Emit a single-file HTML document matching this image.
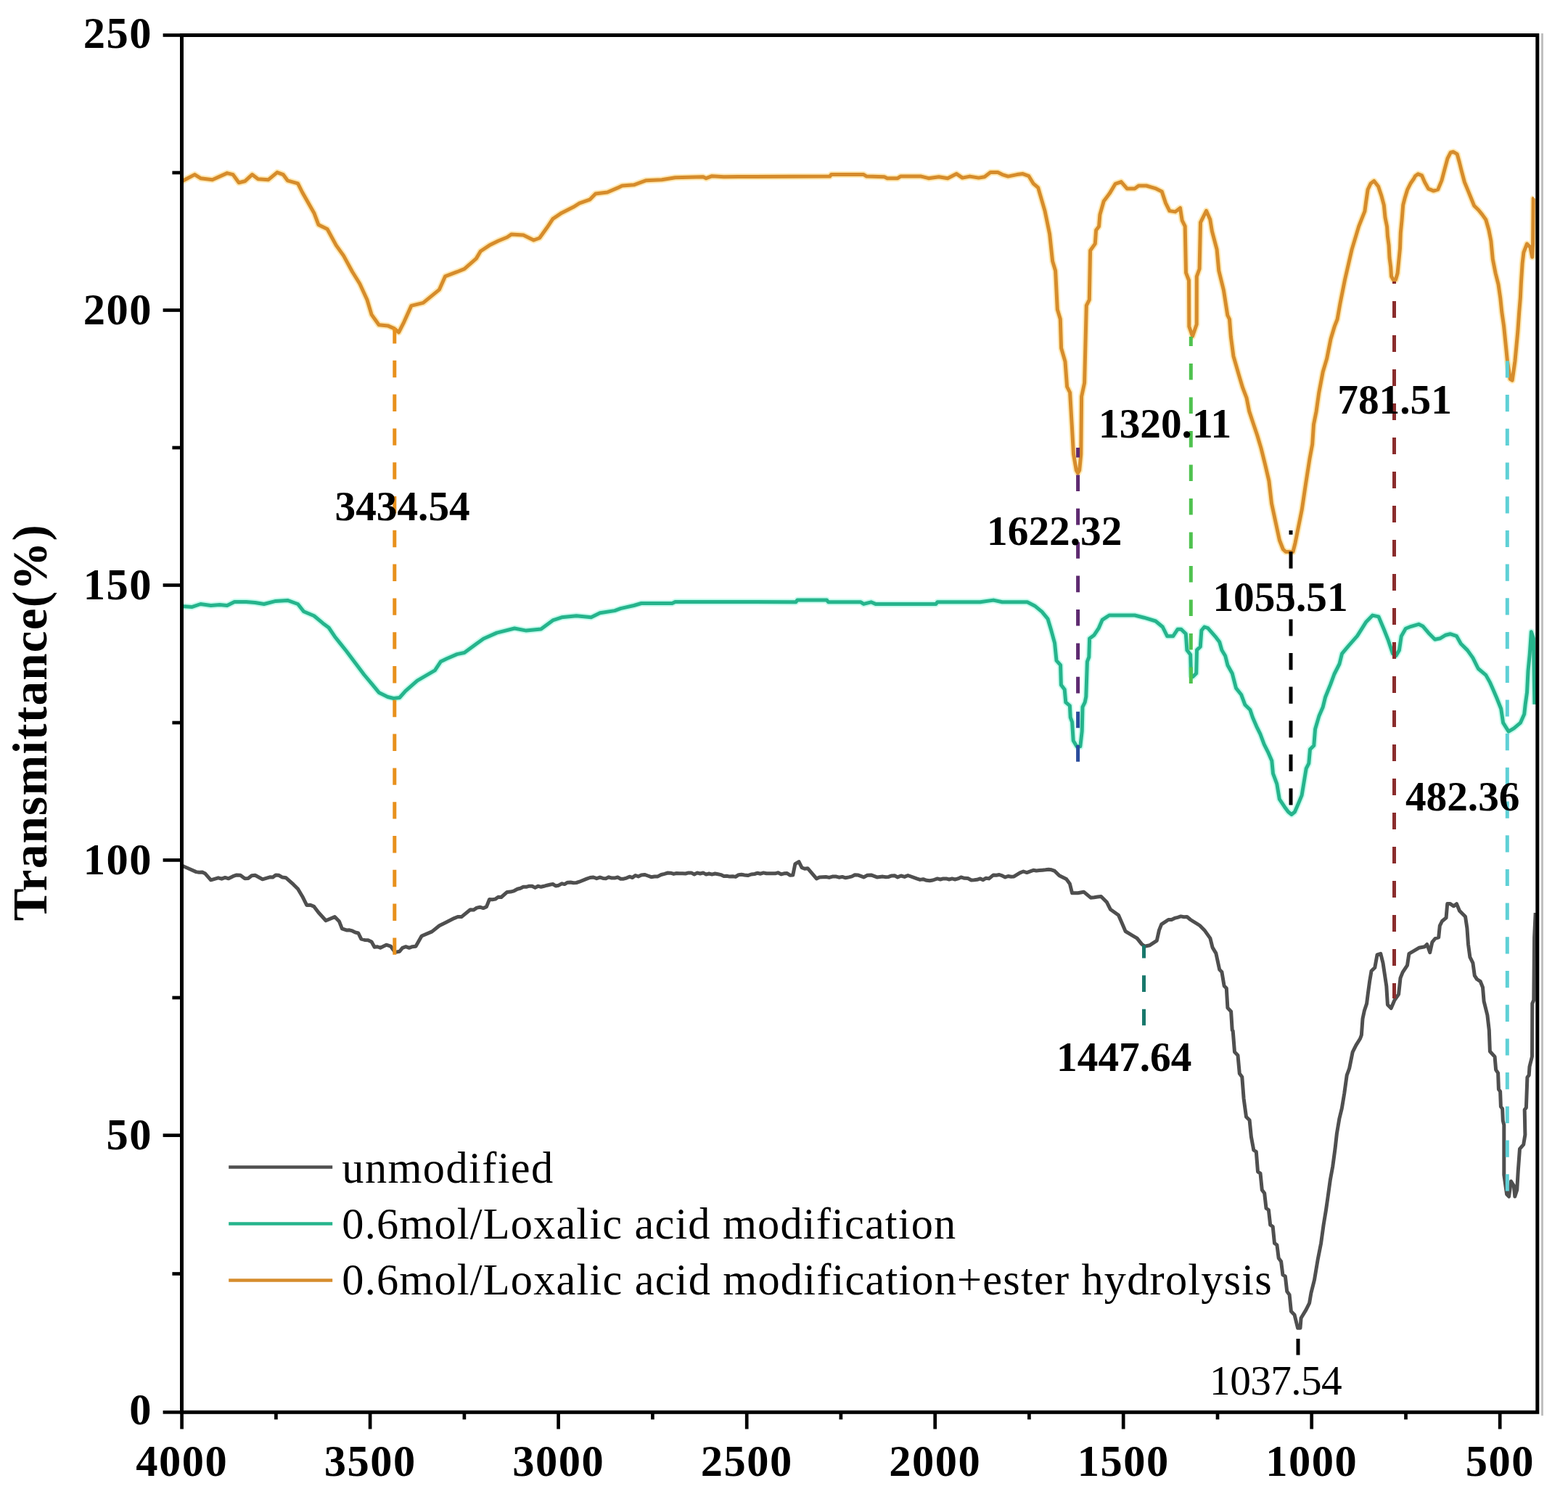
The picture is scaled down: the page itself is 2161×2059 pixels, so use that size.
<!DOCTYPE html>
<html><head><meta charset="utf-8"><title>FTIR spectra</title>
<style>
html,body{margin:0;padding:0;background:#fff;width:2161px;height:2059px;overflow:hidden;}
svg{display:block;}
text{font-family:"Liberation Serif","Times New Roman",serif;}
</style></head><body>
<svg width="2161" height="2059" viewBox="0 0 2161 2059">
<rect x="0" y="0" width="2161" height="2059" fill="#fff"/>
<line x1="2125.5" y1="46" x2="2125.5" y2="1951" stroke="#bdbdbd" stroke-width="2.8"/>
<polyline fill="none" stroke="#c9fbee" stroke-width="9" stroke-linejoin="round" points="251.0,835.6 264.2,836.6 276.4,832.5 290.6,834.5 302.8,833.5 313.0,834.5 323.1,829.5 339.4,829.5 351.6,830.5 363.8,832.5 380.0,828.4 396.3,827.4 410.5,832.5 418.6,842.7 432.8,848.8 445.0,858.9 453.1,865.0 461.3,877.2 469.4,887.4 477.5,897.5 489.7,913.8 501.9,930.0 512.1,942.2 522.2,954.4 534.4,960.5 542.5,962.5 550.7,961.5 558.8,952.4 575.0,938.1 599.4,923.9 607.5,911.7 615.7,907.7 629.9,901.6 640.0,899.5 656.3,887.4 666.4,880.2 684.7,872.1 709.1,866.0 725.3,869.1 745.6,867.0 761.9,854.9 774.1,850.8 794.4,848.8 814.7,850.8 826.9,844.7 847.2,841.6 855.3,838.6 873.6,834.5 883.8,831.5 926.4,831.5 930.5,829.5 1040.0,829.6 1096.9,829.8 1098.9,827.1 1139.5,827.1 1141.6,829.8 1186.3,829.8 1190.3,832.4 1200.5,829.8 1206.6,832.4 1289.9,832.4 1291.9,829.8 1350.8,829.8 1369.1,827.1 1381.3,829.8 1415.8,829.8 1426.0,834.9 1436.0,843.2 1444.0,852.8 1448.8,868.8 1453.6,886.4 1456.0,910.3 1461.6,916.7 1462.4,943.9 1467.2,950.3 1468.8,967.9 1474.4,972.7 1475.2,988.7 1477.6,995.1 1479.2,1020.7 1484.0,1028.7 1488.8,1028.7 1491.2,1007.9 1492.0,974.3 1495.2,967.9 1496.8,959.9 1498.4,911.9 1500.8,905.5 1501.6,880.0 1508.0,875.2 1514.3,865.6 1519.1,854.4 1528.7,848.0 1563.9,848.0 1576.7,851.2 1592.7,856.0 1602.3,864.0 1608.7,876.8 1616.7,876.8 1623.1,867.2 1627.9,867.2 1634.3,873.6 1635.9,896.0 1640.7,902.3 1641.5,931.1 1643.9,932.7 1648.7,927.9 1649.5,895.9 1654.3,891.2 1655.9,868.8 1659.9,864.0 1664.7,865.6 1675.9,878.4 1680.7,884.8 1683.9,896.0 1688.7,904.0 1691.9,916.7 1698.2,927.9 1703.5,948.4 1710.6,957.2 1715.8,971.2 1722.9,978.3 1726.4,988.8 1731.7,1001.1 1736.9,1011.7 1742.2,1025.8 1747.5,1036.3 1752.8,1048.6 1754.5,1066.2 1759.8,1080.3 1763.3,1101.4 1770.3,1111.9 1775.6,1119.0 1780.0,1122.5 1784.4,1119.0 1789.7,1106.7 1794.1,1096.1 1796.7,1080.3 1800.2,1059.2 1803.8,1052.1 1805.5,1032.8 1810.8,1027.5 1812.6,1004.7 1817.8,987.1 1823.1,974.8 1826.6,960.7 1833.7,943.1 1838.9,929.0 1846.0,915.0 1849.5,900.9 1858.3,890.3 1870.6,876.3 1882.9,856.9 1891.7,848.1 1900.0,849.9 1907.5,867.8 1913.4,882.7 1919.4,900.6 1923.9,903.6 1928.4,896.1 1931.3,876.7 1937.3,866.3 1944.8,863.3 1955.2,860.3 1961.2,863.3 1968.7,872.2 1977.6,881.2 1985.1,879.7 1992.5,875.2 1998.5,873.7 2007.5,876.7 2013.4,887.2 2022.4,896.1 2029.9,906.6 2037.3,921.5 2047.8,930.4 2053.7,940.9 2058.2,951.3 2062.7,961.8 2068.7,976.7 2071.6,996.1 2079.1,1008.1 2086.6,1003.6 2095.5,996.1 2100.7,984.2 2102.2,970.7 2104.5,954.3 2106.0,924.5 2108.2,902.1 2110.4,870.7 2113.4,879.7 2114.9,970.7"/>
<polyline fill="none" stroke="#ffeab6" stroke-width="9" stroke-linejoin="round" points="251.0,249.8 268.3,240.6 276.4,245.7 292.7,247.7 313.0,238.6 321.1,240.6 329.2,251.8 337.4,249.8 347.5,240.6 355.6,246.7 369.9,247.7 382.0,237.6 390.2,240.6 396.3,248.8 410.5,252.8 416.6,265.0 432.8,293.4 438.9,309.7 451.1,315.8 463.3,338.1 473.5,352.4 485.7,374.7 495.8,391.0 506.0,413.3 512.1,433.6 522.2,447.8 534.4,448.9 543.5,452.9 549.6,458.0 556.8,443.8 566.9,421.4 583.2,417.4 605.5,399.1 613.6,380.8 629.9,374.7 640.0,370.6 656.3,356.4 662.3,346.3 674.5,338.1 686.7,332.0 698.9,327.0 705.0,322.9 721.3,323.9 735.5,331.0 743.6,328.0 753.8,313.8 761.9,301.6 774.1,293.4 790.3,285.3 798.5,280.2 812.7,275.2 820.8,267.0 837.1,265.0 851.3,258.9 857.4,255.9 873.6,254.8 889.9,248.8 912.2,247.7 930.5,244.7 969.1,243.7 973.2,245.7 981.3,242.7 997.5,243.7 1040.0,243.4 1143.6,243.1 1145.6,240.6 1190.3,240.6 1194.4,243.1 1218.8,243.7 1222.8,245.7 1237.1,245.7 1241.1,243.1 1269.6,243.1 1279.7,245.7 1293.9,243.7 1306.1,245.7 1318.3,239.6 1326.4,245.1 1336.6,243.1 1348.8,245.1 1356.9,243.7 1365.0,237.6 1375.2,237.6 1381.3,240.6 1389.4,243.1 1401.6,240.6 1409.7,239.6 1417.9,242.7 1424.0,252.8 1430.7,258.6 1440.0,290.6 1446.6,322.6 1450.6,359.9 1454.6,373.2 1457.3,426.5 1461.3,439.8 1462.6,479.8 1468.0,498.4 1470.6,533.0 1474.6,541.0 1477.3,586.3 1479.5,626.0 1483.3,648.0 1485.5,652.0 1487.7,648.0 1489.8,626.0 1490.6,546.4 1494.6,527.7 1497.3,421.1 1501.3,413.1 1502.6,345.2 1509.3,335.9 1510.6,317.2 1514.6,311.9 1515.9,295.9 1521.2,277.3 1529.2,266.6 1537.2,253.3 1545.2,250.6 1553.2,259.9 1563.9,259.9 1569.2,256.0 1579.9,256.0 1593.2,259.9 1601.2,263.9 1606.5,279.9 1611.8,290.6 1619.8,291.9 1626.5,286.6 1629.2,303.9 1633.2,311.9 1634.5,375.8 1638.5,386.5 1638.8,450.0 1643.5,463.5 1649.2,447.0 1649.3,381.2 1653.1,370.5 1654.5,306.6 1658.5,298.6 1662.5,290.6 1667.8,302.6 1670.4,318.6 1677.1,343.9 1679.8,373.2 1686.4,399.8 1691.8,434.5 1694.5,440.0 1696.3,463.6 1699.9,490.7 1707.2,516.1 1712.6,534.2 1718.1,548.7 1721.7,566.9 1727.1,583.2 1732.6,599.5 1738.0,617.6 1743.4,639.3 1748.9,662.9 1752.5,693.7 1757.9,719.1 1763.4,744.5 1768.3,757.0 1772.0,760.5 1782.0,760.5 1785.1,748.1 1788.7,730.0 1794.2,702.8 1799.6,666.5 1805.0,632.1 1808.7,612.2 1810.5,585.0 1814.1,566.9 1817.7,541.5 1823.2,512.5 1828.6,494.4 1834.0,467.2 1839.5,449.1 1843.1,440.0 1847.1,417.4 1853.5,385.5 1863.1,343.9 1872.7,311.9 1880.9,291.2 1882.6,278.4 1885.1,261.3 1889.0,253.0 1893.6,249.4 1899.6,257.0 1903.9,269.9 1907.3,282.6 1909.0,299.7 1911.6,312.5 1912.4,325.3 1914.1,338.1 1915.0,355.1 1916.7,368.0 1917.5,380.7 1920.1,385.5 1923.5,385.5 1926.1,376.5 1927.8,359.4 1929.5,342.3 1930.3,321.0 1932.0,304.0 1933.7,282.6 1936.3,272.4 1939.7,261.3 1944.0,252.8 1948.2,246.8 1950.3,242.8 1954.4,239.8 1959.5,241.8 1963.5,251.0 1968.6,260.1 1975.7,263.1 1981.8,261.1 1986.9,248.9 1990.9,233.7 1995.0,218.4 1999.1,210.3 2003.1,209.3 2008.2,212.3 2011.3,223.5 2014.3,235.7 2018.4,251.0 2023.4,263.1 2027.5,273.3 2031.6,283.4 2037.7,289.5 2042.7,295.6 2047.8,302.7 2051.9,317.0 2054.9,332.2 2057.3,357.3 2061.1,376.5 2065.0,391.8 2067.8,411.0 2069.8,430.2 2072.6,449.4 2075.5,478.1 2077.4,497.3 2081.3,522.3 2084.2,524.2 2088.0,497.3 2091.8,457.1 2093.7,430.2 2095.4,410.0 2096.3,391.4 2098.1,363.3 2099.9,347.9 2104.4,336.1 2109.0,340.7 2111.7,354.3 2112.6,336.1 2113.2,273.6 2114.4,272.7"/>
<polyline fill="none" stroke="#4f4f4f" stroke-width="5" stroke-linejoin="round" points="252.0,1193.5 270.3,1201.6 274.4,1202.3 278.4,1201.9 282.5,1203.7 290.6,1212.8 295.7,1211.3 300.8,1209.8 305.5,1211.2 310.3,1209.4 315.0,1210.8 321.1,1207.7 326.2,1205.9 331.3,1206.3 337.4,1210.8 342.1,1210.4 346.9,1206.7 351.6,1206.3 361.7,1211.8 366.8,1210.3 371.9,1208.8 376.0,1209.1 380.0,1206.0 384.1,1206.3 389.1,1209.1 394.2,1209.8 404.4,1218.9 410.5,1225.0 416.6,1235.2 422.7,1247.4 427.8,1247.3 432.8,1249.4 438.9,1257.5 449.1,1268.7 461.3,1263.6 467.4,1269.7 471.4,1279.9 477.5,1281.9 481.6,1281.8 485.6,1282.9 489.7,1285.0 493.8,1286.0 497.8,1294.1 502.6,1295.4 507.3,1295.7 512.1,1298.1 516.1,1305.2 520.2,1304.7 524.2,1306.3 532.4,1302.2 538.5,1304.2 544.6,1312.4 550.7,1311.3 554.7,1306.3 559.3,1304.7 563.9,1306.3 568.4,1304.7 573.0,1304.2 581.1,1290.0 595.4,1283.9 605.5,1275.8 613.6,1271.7 625.8,1265.6 630.9,1263.5 636.0,1263.6 648.1,1253.8 652.6,1254.1 657.1,1251.1 661.5,1250.2 666.0,1251.6 670.5,1249.7 674.5,1239.5 678.6,1239.8 682.6,1239.1 686.7,1236.2 690.8,1236.5 698.9,1229.4 703.6,1229.1 708.4,1227.8 713.1,1225.3 717.2,1224.3 721.2,1222.2 725.3,1222.3 729.4,1221.2 733.4,1221.2 737.5,1223.4 741.5,1221.2 745.6,1222.3 749.7,1221.3 753.7,1220.2 757.8,1219.2 761.9,1218.4 765.9,1221.0 770.0,1220.2 774.1,1217.8 778.1,1218.6 782.2,1216.2 786.3,1216.0 790.4,1216.8 794.4,1216.5 798.5,1215.2 808.6,1211.1 813.2,1209.5 817.8,1209.0 822.3,1210.7 826.9,1209.1 831.0,1210.4 835.0,1210.7 839.0,1208.8 843.1,1210.1 847.2,1210.1 851.3,1209.0 855.3,1211.2 859.4,1211.2 863.5,1210.1 867.6,1208.2 871.6,1209.6 875.7,1206.5 879.7,1207.9 883.8,1206.0 888.4,1205.4 893.0,1207.0 897.5,1208.7 902.1,1208.1 906.6,1207.9 911.2,1205.5 915.8,1204.3 920.3,1203.0 924.4,1203.2 928.4,1204.4 932.5,1203.5 936.6,1203.7 940.6,1203.8 944.7,1204.0 948.8,1202.9 952.8,1202.9 956.9,1205.1 960.9,1202.9 965.0,1204.0 969.1,1202.9 973.2,1205.1 977.2,1204.0 981.3,1205.1 985.4,1204.0 989.5,1204.8 993.5,1205.6 997.6,1207.6 1001.6,1207.3 1005.7,1208.1 1009.8,1207.7 1013.8,1208.4 1017.9,1205.7 1021.9,1205.3 1026.0,1206.0 1030.7,1206.6 1035.3,1205.0 1040.0,1204.5 1044.1,1203.2 1048.2,1204.2 1052.2,1202.9 1056.3,1203.8 1060.3,1203.8 1064.4,1203.8 1068.4,1203.8 1072.5,1202.7 1076.5,1204.9 1080.6,1203.8 1084.7,1203.4 1088.7,1206.3 1092.8,1205.9 1095.9,1190.6 1101.0,1187.6 1105.0,1195.7 1109.0,1197.3 1113.1,1196.7 1125.3,1210.9 1129.4,1208.9 1133.9,1208.7 1138.3,1208.5 1142.8,1209.4 1147.2,1208.1 1151.7,1207.9 1156.3,1209.2 1160.8,1208.4 1165.4,1209.8 1170.0,1208.9 1174.1,1207.9 1178.1,1205.8 1182.2,1205.9 1190.3,1208.9 1195.4,1206.3 1200.5,1205.9 1208.6,1208.9 1212.7,1208.5 1216.7,1208.1 1220.8,1208.8 1224.8,1208.4 1228.9,1206.9 1233.0,1206.8 1237.1,1208.9 1241.8,1207.0 1246.6,1208.4 1251.3,1206.5 1263.5,1210.9 1268.0,1212.4 1272.4,1211.7 1276.9,1213.3 1281.3,1213.7 1285.8,1213.0 1291.9,1210.9 1296.0,1212.0 1300.0,1210.9 1304.1,1210.9 1308.1,1212.0 1312.2,1210.9 1316.2,1212.0 1320.3,1210.9 1324.4,1208.9 1329.1,1210.3 1333.9,1210.5 1338.6,1213.0 1342.7,1212.7 1346.7,1212.3 1350.8,1210.9 1354.9,1212.7 1358.9,1210.2 1363.0,1210.9 1369.1,1205.9 1373.2,1206.2 1377.2,1205.5 1381.3,1206.9 1385.4,1208.9 1389.4,1207.5 1393.5,1208.2 1397.5,1207.9 1405.7,1202.8 1410.4,1201.0 1415.2,1202.6 1419.9,1200.8 1424.1,1199.3 1428.3,1200.0 1432.4,1199.6 1436.6,1199.2 1440.8,1198.8 1445.1,1198.2 1449.3,1198.8 1453.6,1200.4 1460.0,1206.8 1469.6,1211.6 1474.4,1218.0 1477.6,1230.8 1485.6,1230.8 1493.6,1229.2 1503.2,1237.2 1508.0,1236.7 1512.7,1236.1 1517.5,1235.6 1525.5,1243.6 1530.3,1253.2 1541.5,1261.2 1546.3,1272.3 1551.1,1283.5 1559.1,1288.3 1567.1,1293.1 1573.5,1301.1 1577.5,1304.3 1584.7,1302.7 1594.3,1296.3 1597.5,1281.9 1600.7,1273.9 1610.3,1267.5 1614.6,1267.5 1618.8,1265.4 1623.1,1264.3 1627.4,1262.9 1631.6,1263.8 1635.9,1263.5 1640.7,1267.5 1653.5,1275.5 1659.9,1281.9 1667.9,1293.1 1671.1,1305.9 1675.9,1313.9 1680.7,1336.3 1683.9,1339.5 1687.1,1358.7 1690.3,1361.9 1691.9,1389.1 1696.6,1393.9 1698.2,1419.5 1699.2,1421.0 1701.5,1449.8 1706.0,1454.4 1708.3,1479.6 1711.8,1484.2 1714.1,1514.0 1717.5,1539.2 1722.1,1543.8 1724.4,1566.7 1727.8,1585.0 1731.3,1587.3 1733.5,1614.8 1737.0,1617.1 1739.3,1640.0 1742.7,1644.6 1745.0,1665.2 1748.4,1667.5 1750.7,1688.2 1754.2,1690.5 1756.5,1713.4 1759.9,1715.7 1762.2,1734.0 1765.6,1738.6 1767.9,1756.9 1771.4,1759.2 1773.7,1779.8 1777.1,1784.4 1779.4,1807.3 1784.0,1811.9 1788.6,1830.3 1792.0,1830.3 1793.1,1816.5 1800.0,1805.1 1804.6,1795.9 1806.9,1782.1 1811.5,1763.8 1816.1,1736.3 1820.6,1713.4 1824.1,1688.2 1827.5,1667.5 1829.8,1651.5 1833.3,1626.3 1836.7,1607.9 1840.1,1582.7 1842.4,1562.1 1845.9,1541.5 1849.3,1527.7 1852.7,1507.1 1856.2,1481.9 1859.6,1472.7 1864.2,1449.8 1868.8,1440.6 1874.5,1431.5 1876.4,1426.3 1878.0,1403.9 1880.4,1392.7 1883.6,1383.1 1885.2,1370.3 1887.6,1352.7 1890.0,1338.3 1894.8,1333.5 1898.0,1315.9 1902.8,1314.3 1906.0,1327.1 1908.4,1343.1 1910.8,1359.1 1912.4,1384.7 1917.2,1389.5 1922.0,1378.3 1927.6,1370.3 1930.0,1347.9 1933.2,1339.9 1939.5,1330.3 1941.9,1314.3 1947.5,1311.1 1955.5,1306.3 1963.5,1304.7 1966.7,1301.5 1970.7,1312.7 1973.9,1298.3 1977.9,1293.5 1982.7,1291.9 1984.3,1275.9 1987.5,1269.5 1993.1,1264.8 1994.7,1245.6 1998.7,1245.6 2003.5,1248.8 2007.5,1245.6 2011.5,1255.2 2019.5,1263.2 2021.9,1279.1 2023.5,1301.5 2025.9,1319.1 2029.9,1327.1 2032.3,1344.7 2035.5,1349.5 2040.3,1352.7 2043.5,1360.7 2045.1,1379.9 2049.9,1399.1 2052.3,1419.9 2053.4,1449.0 2060.1,1456.4 2061.6,1474.3 2064.6,1478.8 2065.4,1501.2 2067.6,1504.2 2068.4,1525.1 2070.6,1528.1 2071.3,1544.5 2072.8,1550.4 2072.8,1619.1 2076.6,1646.0 2079.6,1649.0 2082.5,1628.0 2086.3,1634.0 2087.8,1649.0 2090.7,1640.0 2092.2,1614.6 2094.5,1583.3 2099.7,1577.3 2101.9,1563.9 2101.2,1529.6 2103.4,1526.6 2104.9,1484.8 2107.2,1481.8 2108.0,1470.0 2111.5,1456.0 2111.8,1383.0 2113.8,1378.3 2114.6,1292.0 2116.2,1258.0"/>
<polyline fill="none" stroke="#26b48c" stroke-width="5" stroke-linejoin="round" points="251.0,835.6 264.2,836.6 276.4,832.5 290.6,834.5 302.8,833.5 313.0,834.5 323.1,829.5 339.4,829.5 351.6,830.5 363.8,832.5 380.0,828.4 396.3,827.4 410.5,832.5 418.6,842.7 432.8,848.8 445.0,858.9 453.1,865.0 461.3,877.2 469.4,887.4 477.5,897.5 489.7,913.8 501.9,930.0 512.1,942.2 522.2,954.4 534.4,960.5 542.5,962.5 550.7,961.5 558.8,952.4 575.0,938.1 599.4,923.9 607.5,911.7 615.7,907.7 629.9,901.6 640.0,899.5 656.3,887.4 666.4,880.2 684.7,872.1 709.1,866.0 725.3,869.1 745.6,867.0 761.9,854.9 774.1,850.8 794.4,848.8 814.7,850.8 826.9,844.7 847.2,841.6 855.3,838.6 873.6,834.5 883.8,831.5 926.4,831.5 930.5,829.5 1040.0,829.6 1096.9,829.8 1098.9,827.1 1139.5,827.1 1141.6,829.8 1186.3,829.8 1190.3,832.4 1200.5,829.8 1206.6,832.4 1289.9,832.4 1291.9,829.8 1350.8,829.8 1369.1,827.1 1381.3,829.8 1415.8,829.8 1426.0,834.9 1436.0,843.2 1444.0,852.8 1448.8,868.8 1453.6,886.4 1456.0,910.3 1461.6,916.7 1462.4,943.9 1467.2,950.3 1468.8,967.9 1474.4,972.7 1475.2,988.7 1477.6,995.1 1479.2,1020.7 1484.0,1028.7 1488.8,1028.7 1491.2,1007.9 1492.0,974.3 1495.2,967.9 1496.8,959.9 1498.4,911.9 1500.8,905.5 1501.6,880.0 1508.0,875.2 1514.3,865.6 1519.1,854.4 1528.7,848.0 1563.9,848.0 1576.7,851.2 1592.7,856.0 1602.3,864.0 1608.7,876.8 1616.7,876.8 1623.1,867.2 1627.9,867.2 1634.3,873.6 1635.9,896.0 1640.7,902.3 1641.5,931.1 1643.9,932.7 1648.7,927.9 1649.5,895.9 1654.3,891.2 1655.9,868.8 1659.9,864.0 1664.7,865.6 1675.9,878.4 1680.7,884.8 1683.9,896.0 1688.7,904.0 1691.9,916.7 1698.2,927.9 1703.5,948.4 1710.6,957.2 1715.8,971.2 1722.9,978.3 1726.4,988.8 1731.7,1001.1 1736.9,1011.7 1742.2,1025.8 1747.5,1036.3 1752.8,1048.6 1754.5,1066.2 1759.8,1080.3 1763.3,1101.4 1770.3,1111.9 1775.6,1119.0 1780.0,1122.5 1784.4,1119.0 1789.7,1106.7 1794.1,1096.1 1796.7,1080.3 1800.2,1059.2 1803.8,1052.1 1805.5,1032.8 1810.8,1027.5 1812.6,1004.7 1817.8,987.1 1823.1,974.8 1826.6,960.7 1833.7,943.1 1838.9,929.0 1846.0,915.0 1849.5,900.9 1858.3,890.3 1870.6,876.3 1882.9,856.9 1891.7,848.1 1900.0,849.9 1907.5,867.8 1913.4,882.7 1919.4,900.6 1923.9,903.6 1928.4,896.1 1931.3,876.7 1937.3,866.3 1944.8,863.3 1955.2,860.3 1961.2,863.3 1968.7,872.2 1977.6,881.2 1985.1,879.7 1992.5,875.2 1998.5,873.7 2007.5,876.7 2013.4,887.2 2022.4,896.1 2029.9,906.6 2037.3,921.5 2047.8,930.4 2053.7,940.9 2058.2,951.3 2062.7,961.8 2068.7,976.7 2071.6,996.1 2079.1,1008.1 2086.6,1003.6 2095.5,996.1 2100.7,984.2 2102.2,970.7 2104.5,954.3 2106.0,924.5 2108.2,902.1 2110.4,870.7 2113.4,879.7 2114.9,970.7"/>
<polyline fill="none" stroke="#d68c2c" stroke-width="5" stroke-linejoin="round" points="251.0,249.8 268.3,240.6 276.4,245.7 292.7,247.7 313.0,238.6 321.1,240.6 329.2,251.8 337.4,249.8 347.5,240.6 355.6,246.7 369.9,247.7 382.0,237.6 390.2,240.6 396.3,248.8 410.5,252.8 416.6,265.0 432.8,293.4 438.9,309.7 451.1,315.8 463.3,338.1 473.5,352.4 485.7,374.7 495.8,391.0 506.0,413.3 512.1,433.6 522.2,447.8 534.4,448.9 543.5,452.9 549.6,458.0 556.8,443.8 566.9,421.4 583.2,417.4 605.5,399.1 613.6,380.8 629.9,374.7 640.0,370.6 656.3,356.4 662.3,346.3 674.5,338.1 686.7,332.0 698.9,327.0 705.0,322.9 721.3,323.9 735.5,331.0 743.6,328.0 753.8,313.8 761.9,301.6 774.1,293.4 790.3,285.3 798.5,280.2 812.7,275.2 820.8,267.0 837.1,265.0 851.3,258.9 857.4,255.9 873.6,254.8 889.9,248.8 912.2,247.7 930.5,244.7 969.1,243.7 973.2,245.7 981.3,242.7 997.5,243.7 1040.0,243.4 1143.6,243.1 1145.6,240.6 1190.3,240.6 1194.4,243.1 1218.8,243.7 1222.8,245.7 1237.1,245.7 1241.1,243.1 1269.6,243.1 1279.7,245.7 1293.9,243.7 1306.1,245.7 1318.3,239.6 1326.4,245.1 1336.6,243.1 1348.8,245.1 1356.9,243.7 1365.0,237.6 1375.2,237.6 1381.3,240.6 1389.4,243.1 1401.6,240.6 1409.7,239.6 1417.9,242.7 1424.0,252.8 1430.7,258.6 1440.0,290.6 1446.6,322.6 1450.6,359.9 1454.6,373.2 1457.3,426.5 1461.3,439.8 1462.6,479.8 1468.0,498.4 1470.6,533.0 1474.6,541.0 1477.3,586.3 1479.5,626.0 1483.3,648.0 1485.5,652.0 1487.7,648.0 1489.8,626.0 1490.6,546.4 1494.6,527.7 1497.3,421.1 1501.3,413.1 1502.6,345.2 1509.3,335.9 1510.6,317.2 1514.6,311.9 1515.9,295.9 1521.2,277.3 1529.2,266.6 1537.2,253.3 1545.2,250.6 1553.2,259.9 1563.9,259.9 1569.2,256.0 1579.9,256.0 1593.2,259.9 1601.2,263.9 1606.5,279.9 1611.8,290.6 1619.8,291.9 1626.5,286.6 1629.2,303.9 1633.2,311.9 1634.5,375.8 1638.5,386.5 1638.8,450.0 1643.5,463.5 1649.2,447.0 1649.3,381.2 1653.1,370.5 1654.5,306.6 1658.5,298.6 1662.5,290.6 1667.8,302.6 1670.4,318.6 1677.1,343.9 1679.8,373.2 1686.4,399.8 1691.8,434.5 1694.5,440.0 1696.3,463.6 1699.9,490.7 1707.2,516.1 1712.6,534.2 1718.1,548.7 1721.7,566.9 1727.1,583.2 1732.6,599.5 1738.0,617.6 1743.4,639.3 1748.9,662.9 1752.5,693.7 1757.9,719.1 1763.4,744.5 1768.3,757.0 1772.0,760.5 1782.0,760.5 1785.1,748.1 1788.7,730.0 1794.2,702.8 1799.6,666.5 1805.0,632.1 1808.7,612.2 1810.5,585.0 1814.1,566.9 1817.7,541.5 1823.2,512.5 1828.6,494.4 1834.0,467.2 1839.5,449.1 1843.1,440.0 1847.1,417.4 1853.5,385.5 1863.1,343.9 1872.7,311.9 1880.9,291.2 1882.6,278.4 1885.1,261.3 1889.0,253.0 1893.6,249.4 1899.6,257.0 1903.9,269.9 1907.3,282.6 1909.0,299.7 1911.6,312.5 1912.4,325.3 1914.1,338.1 1915.0,355.1 1916.7,368.0 1917.5,380.7 1920.1,385.5 1923.5,385.5 1926.1,376.5 1927.8,359.4 1929.5,342.3 1930.3,321.0 1932.0,304.0 1933.7,282.6 1936.3,272.4 1939.7,261.3 1944.0,252.8 1948.2,246.8 1950.3,242.8 1954.4,239.8 1959.5,241.8 1963.5,251.0 1968.6,260.1 1975.7,263.1 1981.8,261.1 1986.9,248.9 1990.9,233.7 1995.0,218.4 1999.1,210.3 2003.1,209.3 2008.2,212.3 2011.3,223.5 2014.3,235.7 2018.4,251.0 2023.4,263.1 2027.5,273.3 2031.6,283.4 2037.7,289.5 2042.7,295.6 2047.8,302.7 2051.9,317.0 2054.9,332.2 2057.3,357.3 2061.1,376.5 2065.0,391.8 2067.8,411.0 2069.8,430.2 2072.6,449.4 2075.5,478.1 2077.4,497.3 2081.3,522.3 2084.2,524.2 2088.0,497.3 2091.8,457.1 2093.7,430.2 2095.4,410.0 2096.3,391.4 2098.1,363.3 2099.9,347.9 2104.4,336.1 2109.0,340.7 2111.7,354.3 2112.6,336.1 2113.2,273.6 2114.4,272.7"/>
<line x1="543.8" y1="452" x2="543.8" y2="1316" stroke="#e8901c" stroke-width="5" stroke-dasharray="23.4 23.4" stroke-dashoffset="2.00"/>
<line x1="1485.6" y1="617" x2="1485.6" y2="960" stroke="#5e2a70" stroke-width="5" stroke-dasharray="22.6 23.8" stroke-dashoffset="9.00"/>
<line x1="1485.6" y1="980.7" x2="1485.6" y2="1051" stroke="#2a4c9c" stroke-width="5" stroke-dasharray="22.6 23.8" stroke-dashoffset="0.00"/>
<line x1="1641.3" y1="464" x2="1641.3" y2="945" stroke="#4fc24f" stroke-width="5" stroke-dasharray="22.5 24.0" stroke-dashoffset="9.50"/>
<line x1="1779.0" y1="731" x2="1779.0" y2="1111" stroke="#000000" stroke-width="5" stroke-dasharray="23.2 23.4" stroke-dashoffset="17.40"/>
<line x1="1789.0" y1="1845" x2="1789.0" y2="1867.5" stroke="#000000" stroke-width="5" stroke-dasharray="23 23" stroke-dashoffset="0.00"/>
<line x1="1921.5" y1="388" x2="1921.5" y2="1376" stroke="#8a2c2c" stroke-width="5" stroke-dasharray="23.2 23.8" stroke-dashoffset="20.10"/>
<line x1="2077.3" y1="497.4" x2="2077.3" y2="1647" stroke="#5fd0d6" stroke-width="5" stroke-dasharray="23.2 23.5" stroke-dashoffset="0.00"/>
<line x1="1576.5" y1="1302.7" x2="1576.5" y2="1414" stroke="#18786c" stroke-width="5" stroke-dasharray="22.6 23.8" stroke-dashoffset="4.80"/>
<g stroke="#000" fill="none">
<rect x="250.5" y="48.5" width="1868.3" height="1897.8" stroke-width="5"/>
<line x1="224.6" y1="48.5" x2="250.5" y2="48.5" stroke-width="4.7"/>
<line x1="224.6" y1="427.5" x2="250.5" y2="427.5" stroke-width="4.7"/>
<line x1="224.6" y1="806.5" x2="250.5" y2="806.5" stroke-width="4.7"/>
<line x1="224.6" y1="1185.4" x2="250.5" y2="1185.4" stroke-width="4.7"/>
<line x1="224.6" y1="1564.7" x2="250.5" y2="1564.7" stroke-width="4.7"/>
<line x1="224.6" y1="1946.3" x2="250.5" y2="1946.3" stroke-width="4.7"/>
<line x1="237.4" y1="238.0" x2="250.5" y2="238.0" stroke-width="4.7"/>
<line x1="237.4" y1="617.0" x2="250.5" y2="617.0" stroke-width="4.7"/>
<line x1="237.4" y1="996.0" x2="250.5" y2="996.0" stroke-width="4.7"/>
<line x1="237.4" y1="1375.0" x2="250.5" y2="1375.0" stroke-width="4.7"/>
<line x1="237.4" y1="1755.5" x2="250.5" y2="1755.5" stroke-width="4.7"/>
<line x1="250.6" y1="1946.3" x2="250.6" y2="1969.5" stroke-width="4.7"/>
<line x1="510.1" y1="1946.3" x2="510.1" y2="1969.5" stroke-width="4.7"/>
<line x1="769.6" y1="1946.3" x2="769.6" y2="1969.5" stroke-width="4.7"/>
<line x1="1029.2" y1="1946.3" x2="1029.2" y2="1969.5" stroke-width="4.7"/>
<line x1="1288.7" y1="1946.3" x2="1288.7" y2="1969.5" stroke-width="4.7"/>
<line x1="1548.2" y1="1946.3" x2="1548.2" y2="1969.5" stroke-width="4.7"/>
<line x1="1807.7" y1="1946.3" x2="1807.7" y2="1969.5" stroke-width="4.7"/>
<line x1="2067.2" y1="1946.3" x2="2067.2" y2="1969.5" stroke-width="4.7"/>
<line x1="380.4" y1="1946.3" x2="380.4" y2="1956.3" stroke-width="4.7"/>
<line x1="639.9" y1="1946.3" x2="639.9" y2="1956.3" stroke-width="4.7"/>
<line x1="899.4" y1="1946.3" x2="899.4" y2="1956.3" stroke-width="4.7"/>
<line x1="1158.9" y1="1946.3" x2="1158.9" y2="1956.3" stroke-width="4.7"/>
<line x1="1418.4" y1="1946.3" x2="1418.4" y2="1956.3" stroke-width="4.7"/>
<line x1="1678.0" y1="1946.3" x2="1678.0" y2="1956.3" stroke-width="4.7"/>
<line x1="1937.5" y1="1946.3" x2="1937.5" y2="1956.3" stroke-width="4.7"/>
</g>
<text x="210" y="66.0" font-size="60.5" font-weight="bold" letter-spacing="1.5" text-anchor="end">250</text>
<text x="210" y="447.0" font-size="60.5" font-weight="bold" letter-spacing="1.5" text-anchor="end">200</text>
<text x="210" y="826.0" font-size="60.5" font-weight="bold" letter-spacing="1.5" text-anchor="end">150</text>
<text x="210" y="1205.0" font-size="60.5" font-weight="bold" letter-spacing="1.5" text-anchor="end">100</text>
<text x="210" y="1584.0" font-size="60.5" font-weight="bold" letter-spacing="1.5" text-anchor="end">50</text>
<text x="210" y="1963.0" font-size="60.5" font-weight="bold" letter-spacing="1.5" text-anchor="end">0</text>
<text x="250.7" y="2033.5" font-size="60.5" font-weight="bold" letter-spacing="1.5" text-anchor="middle">4000</text>
<text x="510.2" y="2033.5" font-size="60.5" font-weight="bold" letter-spacing="1.5" text-anchor="middle">3500</text>
<text x="769.7" y="2033.5" font-size="60.5" font-weight="bold" letter-spacing="1.5" text-anchor="middle">3000</text>
<text x="1029.3" y="2033.5" font-size="60.5" font-weight="bold" letter-spacing="1.5" text-anchor="middle">2500</text>
<text x="1288.8" y="2033.5" font-size="60.5" font-weight="bold" letter-spacing="1.5" text-anchor="middle">2000</text>
<text x="1548.3" y="2033.5" font-size="60.5" font-weight="bold" letter-spacing="1.5" text-anchor="middle">1500</text>
<text x="1807.8" y="2033.5" font-size="60.5" font-weight="bold" letter-spacing="1.5" text-anchor="middle">1000</text>
<text x="2067.3" y="2033.5" font-size="60.5" font-weight="bold" letter-spacing="1.5" text-anchor="middle">500</text>
<text transform="translate(63.6,1269.2) rotate(-90)" font-size="67" font-weight="bold" letter-spacing="1.26">Transmittance(%)</text>
<text x="461.5" y="717.3" font-size="57.3" font-weight="bold" fill="#000">3434.54</text>
<text x="1514.0" y="603.2" font-size="57.3" font-weight="bold" fill="#000">1320.11</text>
<text x="1360.1" y="751.3" font-size="57.3" font-weight="bold" fill="#000">1622.32</text>
<text x="1671.4" y="842.0" font-size="57.3" font-weight="bold" fill="#000">1055.51</text>
<text x="1843.3" y="569.5" font-size="57.3" font-weight="bold" fill="#000">781.51</text>
<text x="1936.9" y="1117.1" font-size="57.3" font-weight="bold" fill="#000">482.36</text>
<text x="1456.1" y="1475.5" font-size="57.3" font-weight="bold" fill="#000">1447.64</text>
<text x="1667.1" y="1922.2" font-size="57.3" letter-spacing="-0.60" fill="#000">1037.54</text>
<line x1="315.2" y1="1608.5" x2="458.2" y2="1608.5" stroke="#4f4f4f" stroke-width="4.6"/>
<line x1="315.2" y1="1686.5" x2="458.2" y2="1686.5" stroke="#26b48c" stroke-width="4.6"/>
<line x1="315.2" y1="1764.5" x2="458.2" y2="1764.5" stroke="#d68c2c" stroke-width="4.6"/>
<text x="471.3" y="1629.5" font-size="60.4" letter-spacing="1.39" fill="#000">unmodified</text>
<text x="471.3" y="1706.8" font-size="60.4" letter-spacing="1.16" fill="#000">0.6mol/Loxalic acid modification</text>
<text x="471.3" y="1784.3" font-size="60.4" letter-spacing="1.18" fill="#000">0.6mol/Loxalic acid modification+ester hydrolysis</text>
</svg>
</body></html>
